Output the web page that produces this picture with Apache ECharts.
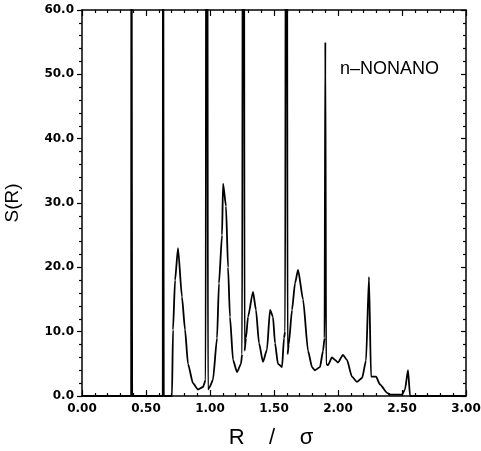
<!DOCTYPE html>
<html>
<head>
<meta charset="utf-8">
<script src="https://cdn.jsdelivr.net/npm/echarts@6/dist/echarts.min.js"></script>
<style>html,body{margin:0;padding:0;background:#fff;}#c{width:481px;height:451px;}</style>
</head>
<body>
<div id="c"></div>
<script>
// R / sigma values
var rValues = [
  0.000, 0.384, 0.386, 0.390, 0.392, 0.631, 0.633, 0.637, 0.639,
  0.703, 0.711, 0.727, 0.750, 0.781, 0.805, 0.828, 0.867, 0.906, 0.945, 0.966,
  0.972, 0.978, 0.984, 0.995, 1.023, 1.055, 1.070, 1.094, 1.102, 1.125, 1.141, 1.156,
  1.180, 1.211, 1.242, 1.251, 1.258, 1.264, 1.270, 1.281, 1.297, 1.336, 1.359, 1.383, 1.414,
  1.445, 1.469, 1.492, 1.508, 1.531, 1.563, 1.578, 1.587, 1.594, 1.600, 1.606, 1.615, 1.641,
  1.664, 1.688, 1.727, 1.766, 1.797, 1.820, 1.859, 1.883, 1.895, 1.901, 1.907, 1.922, 1.953,
  1.977, 2.000, 2.039, 2.070, 2.109, 2.148, 2.188, 2.219, 2.242, 2.258, 2.297,
  2.328, 2.383, 2.406, 2.500, 2.523, 2.547, 2.563, 3.000
];
// S(R) values
var sValues = [
  0, 0, 120, 120, 0, 0, 120, 120, 0,
  0, 10.3, 18, 23, 15.4, 10.3, 5, 2, 1, 1.4, 2.5,
  120, 120, 1.0, 1.3, 2.5, 9, 17.5, 25, 33, 29.5, 20, 12.3,
  5.6, 3.7, 5, 6.5, 120, 120, 7, 9, 12.3, 16.2, 13.4, 8.2, 5.3,
  7.2, 13.4, 12.3, 8.2, 5, 4.5, 9, 10, 120, 120, 6.5, 8, 13.4,
  17.5, 19.6, 15, 7, 4.5, 4, 4.5, 7, 9, 55, 5, 4.8, 6,
  5.6, 5.2, 6.4, 5.6, 3, 2.2, 2.8, 5.5, 18.5, 3, 3,
  1.8, 0.5, 0.2, 0.2, 1, 4, 0, 0
];
var xTicks = [0.0, 0.5, 1.0, 1.5, 2.0, 2.5, 3.0];
var yTicks = [0, 10, 20, 30, 40, 50, 60];

var points = rValues.map(function (r, i) { return [r, sValues[i]]; });

var chart = echarts.init(document.getElementById('c'), null, {renderer: 'canvas'});
var labelFont = {color: '#000', fontFamily: 'DejaVu Sans', fontWeight: 'bold', fontSize: 12};
var axisLine = {show: true, onZero: false, lineStyle: {color: '#000', width: 1.5}};
var tickStyle = {color: '#000', width: 1.2};
chart.setOption({
  backgroundColor: '#fff',
  animation: false,
  grid: {left: 82, right: 15, top: 10, bottom: 55, containLabel: false, outerBoundsMode: 'none'},
  xAxis: [{
    type: 'value', min: xTicks[0], max: xTicks[xTicks.length - 1], interval: 0.5, position: 'bottom',
    axisLine: axisLine,
    axisTick: {show: true, inside: true, length: 6, lineStyle: tickStyle},
    minorTick: {show: true, splitNumber: 5, length: 3, lineStyle: tickStyle},
    axisLabel: Object.assign({margin: 7, formatter: function (v) { return v.toFixed(2); }}, labelFont),
    splitLine: {show: false},
    name: 'R    /    σ', nameLocation: 'middle', nameGap: 31,
    nameTextStyle: {color: '#000', fontFamily: 'Liberation Sans', fontSize: 22, padding: [0, 6, 0, 0]}
  }, {
    type: 'value', min: xTicks[0], max: xTicks[xTicks.length - 1], interval: 0.5, position: 'top',
    axisLine: axisLine,
    axisTick: {show: true, inside: true, length: 6, lineStyle: tickStyle},
    minorTick: {show: true, splitNumber: 5, length: 3, lineStyle: tickStyle},
    axisLabel: {show: false},
    splitLine: {show: false}
  }],
  yAxis: [{
    type: 'value', min: yTicks[0], max: yTicks[yTicks.length - 1], interval: 10, position: 'left',
    axisLine: axisLine,
    axisTick: {show: true, inside: false, length: 5, lineStyle: tickStyle},
    minorTick: {show: true, splitNumber: 5, length: 3, lineStyle: tickStyle},
    axisLabel: Object.assign({margin: 8, formatter: function (v) { return v.toFixed(1); }}, labelFont),
    splitLine: {show: false},
    name: 'S(R)', nameLocation: 'middle', nameGap: 60,
    nameTextStyle: {color: '#000', fontFamily: 'Liberation Sans', fontSize: 19}
  }, {
    type: 'value', min: yTicks[0], max: yTicks[yTicks.length - 1], interval: 10, position: 'right',
    axisLine: axisLine,
    axisTick: {show: true, inside: true, length: 5, lineStyle: tickStyle},
    minorTick: {show: true, splitNumber: 5, length: 3, lineStyle: tickStyle},
    axisLabel: {show: false},
    splitLine: {show: false}
  }],
  graphic: [{
    type: 'text', left: 340, top: 60,
    style: {text: 'n–NONANO', fill: '#000', font: '18px "Liberation Sans"'}
  }],
  series: [{
    type: 'line', data: points, xAxisIndex: 0, yAxisIndex: 0,
    showSymbol: false, clip: true, smooth: 0.2, smoothMonotone: 'x',
    lineStyle: {color: '#000', width: 1.8},
    z: 1
  }]
});
</script>
</body>
</html>
